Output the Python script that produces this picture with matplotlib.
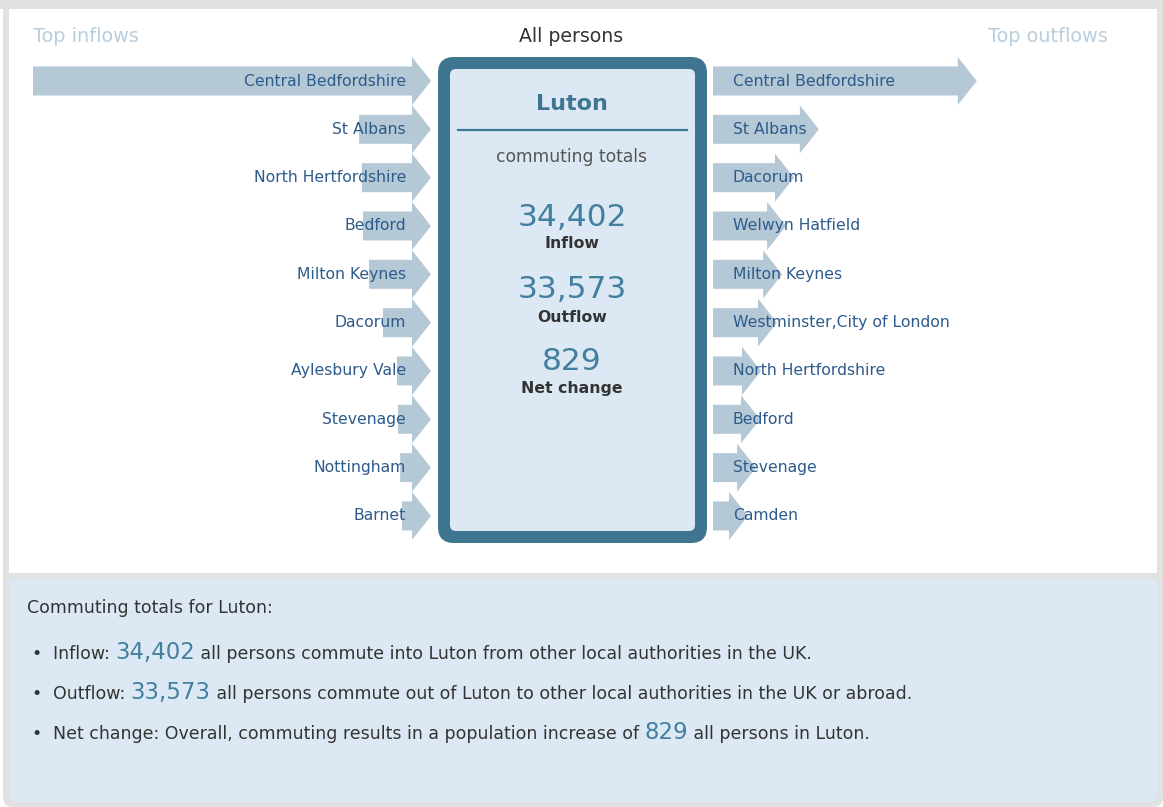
import matplotlib
matplotlib.use('Agg')
import matplotlib.pyplot as plt
from matplotlib.patches import Polygon, FancyBboxPatch, Rectangle

# данные (читаются с картинки)
area = 'Luton'
inflow_total = 34402
outflow_total = 33573
net_change = inflow_total - outflow_total

in_names = ['Central Bedfordshire', 'St Albans', 'North Hertfordshire', 'Bedford',
            'Milton Keynes', 'Dacorum', 'Aylesbury Vale', 'Stevenage', 'Nottingham', 'Barnet']
in_values = [9600, 1340, 1270, 1240, 1090, 735, 380, 355, 300, 255]

out_names = ['Central Bedfordshire', 'St Albans', 'Dacorum', 'Welwyn Hatfield', 'Milton Keynes',
             'Westminster,City of London', 'North Hertfordshire', 'Bedford', 'Stevenage', 'Camden']
out_values = [6200, 2200, 1570, 1370, 1270, 1140, 735, 710, 610, 405]

# цвета
frame_grey = '#e1e1e1'
pale_blue = '#dce9f4'
dark_teal = '#3e7591'
arrow_col = '#b5c8d6'
label_col = '#2d5b8b'
faint = '#b9cedd'
text_dark = '#333333'

W, H = 1163, 807
fig = plt.figure(figsize=(W / 100, H / 100), dpi=100)
ax = fig.add_axes([0, 0, 1, 1])
ax.set_xlim(0, W)
ax.set_ylim(H, 0)
ax.axis('off')

# рамка и панели
ax.add_patch(FancyBboxPatch((3, 0), W - 3, H, boxstyle='round,pad=0,rounding_size=10',
                            fc=frame_grey, ec='none'))
ax.add_patch(Rectangle((0, 0), W, 9, fc=frame_grey, ec='none'))
ax.add_patch(Rectangle((3, 0), 20, 30, fc=frame_grey, ec='none'))
ax.add_patch(Rectangle((9, 9), 1148, 564, fc='white', ec='none'))
ax.add_patch(FancyBboxPatch((9, 579), 1148, 223, boxstyle='round,pad=0,rounding_size=8',
                            fc=pale_blue, ec='none'))
ax.add_patch(Rectangle((9, 579), 1148, 20, fc=pale_blue, ec='none'))

# заголовки
ax.text(33, 36, 'Top inflows', fontsize=13.9, color=faint, va='center', ha='left')
ax.text(1108, 36, 'Top outflows', fontsize=13.9, color=faint, va='center', ha='right')
ax.text(571, 36, 'All persons', fontsize=13.6, color=text_dark, va='center', ha='center')

# стрелки
scale = 379 / max(in_values + out_values)
row0, step = 81, 48.33
body_h, head_h, head_len = 14.5, 24, 19


def arrow(x0, x1, yc):
    pts = [(x0, yc - body_h), (x1, yc - body_h), (x1, yc - head_h), (x1 + head_len, yc),
           (x1, yc + head_h), (x1, yc + body_h), (x0, yc + body_h)]
    ax.add_patch(Polygon(pts, closed=True, fc=arrow_col, ec='none'))


for i, (name, v) in enumerate(zip(in_names, in_values)):
    yc = row0 + i * step
    arrow(412 - v * scale, 412, yc)
    ax.text(406, yc, name, fontsize=11.25, color=label_col, ha='right', va='center')

for i, (name, v) in enumerate(zip(out_names, out_values)):
    yc = row0 + i * step
    arrow(713, 713 + v * scale, yc)
    ax.text(733, yc, name, fontsize=11.25, color=label_col, ha='left', va='center')

# центральный блок
ax.add_patch(FancyBboxPatch((438, 57), 269, 486, boxstyle='round,pad=0,rounding_size=16',
                            fc=dark_teal, ec='none'))
ax.add_patch(FancyBboxPatch((450, 69), 245, 462, boxstyle='round,pad=0,rounding_size=6',
                            fc=pale_blue, ec='none'))
ax.text(572, 104, area, fontsize=16, fontweight='bold', color=dark_teal, ha='center', va='center')
ax.plot([458, 687], [130, 130], color=dark_teal, lw=1.6)
ax.text(572, 157, 'commuting totals', fontsize=12.3, color='#555555', ha='center', va='center')

for yn, yl, num, lab in [(217, 244, inflow_total, 'Inflow'),
                         (289, 317, outflow_total, 'Outflow'),
                         (361, 389, net_change, 'Net change')]:
    ax.text(572, yn, f'{num:,}', fontsize=22.5, color='#43809f', ha='center', va='center')
    ax.text(572, yl, lab, fontsize=11.3, fontweight='bold', color=text_dark, ha='center', va='center')

# нижний текст
renderer = fig.canvas.get_renderer()


def run_line(parts, x, y):
    for s, size, color in parts:
        t = ax.text(x, y, s, fontsize=size, color=color, ha='left', va='baseline')
        x += t.get_window_extent(renderer).width


ax.text(27, 613, f'Commuting totals for {area}:', fontsize=12.5, color=text_dark, va='baseline')
lines = [
    ('Inflow: ', inflow_total, f' all persons commute into {area} from other local authorities in the UK.'),
    ('Outflow: ', outflow_total, f' all persons commute out of {area} to other local authorities in the UK or abroad.'),
    ('Net change: Overall, commuting results in a population increase of ', net_change, f' all persons in {area}.'),
]
for i, (a, num, b) in enumerate(lines):
    y = 659 + i * 40
    ax.text(36, y, '\u2022', fontsize=12.5, color=text_dark, va='baseline', ha='center')
    run_line([(a.rstrip() + ' ', 12.5, text_dark), (f'{num:,}', 16.5, '#43809f'),
              (' ' + b.strip(), 12.5, text_dark)], 53, y)

fig.savefig('out.png', dpi=100)
